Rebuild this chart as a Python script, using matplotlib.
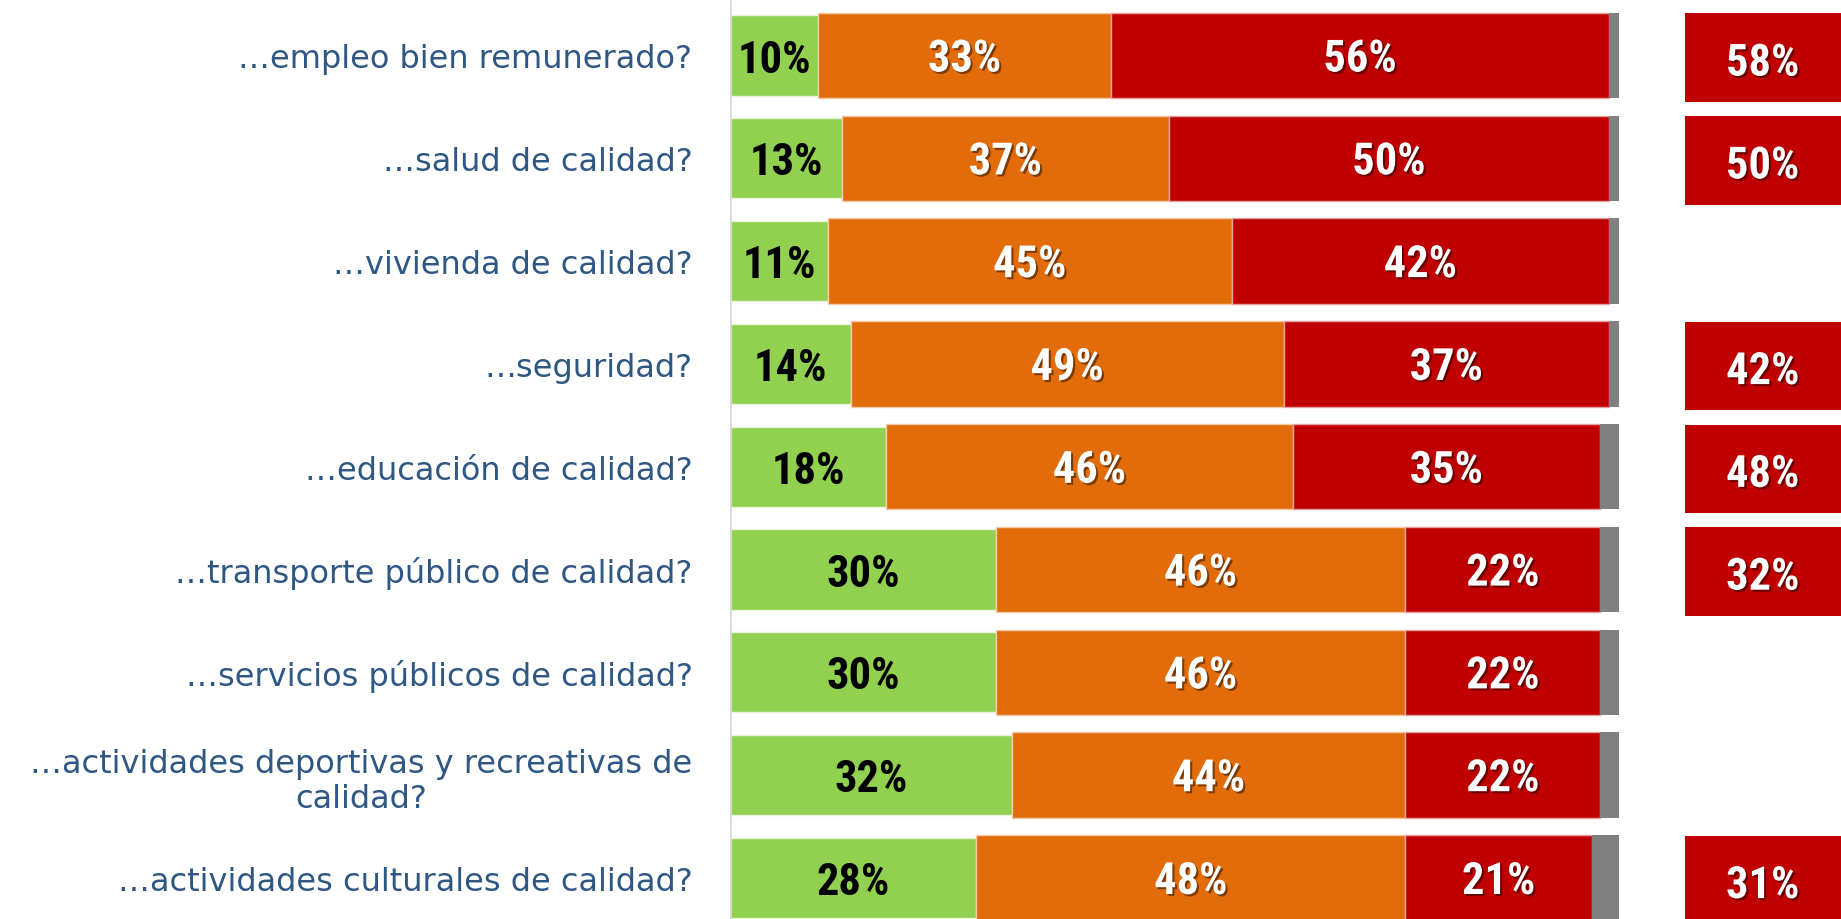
import matplotlib
matplotlib.use('Agg')
import matplotlib.pyplot as plt
import matplotlib.patheffects as pe
import numpy as np

# pregunta: ¿cree que su ciudad ofrece ...
CATEGORIES = ['…empleo bien remunerado?', '…salud de calidad?', '…vivienda de calidad?',
              '…seguridad?', '…educación de calidad?', '…transporte público de calidad?',
              '…servicios públicos de calidad?',
              '…actividades deportivas y recreativas de\ncalidad?',
              '…actividades culturales de calidad?']
GREEN = [9.9, 12.6, 11.0, 13.6, 17.6, 29.9, 29.9, 31.7, 27.7]
ORANGE = [33.0, 36.9, 45.4, 48.7, 45.7, 46.1, 46.1, 44.3, 48.2]
RED = [56.0, 49.6, 42.4, 36.6, 34.6, 21.9, 21.9, 21.9, 21.0]
NSNR = [1.1, 1.1, 1.1, 1.1, 2.1, 2.1, 2.1, 2.1, 3.0]
SIDE = ['58%', '50%', '', '42%', '48%', '32%', '', '', '31%']

C_GREEN = '#92D050'
C_ORANGE = '#E36C0A'
C_RED = '#C00000'
C_GRAY = '#808080'
LABEL_COLOR = '#2E5783'
NUM_FONT = ['Roboto Condensed', 'Liberation Sans Narrow', 'Roboto', 'DejaVu Sans']
NUM_SIZE = 32

fig = plt.figure(figsize=(18.41, 9.2), dpi=100)
ax = fig.add_axes([730 / 1841, 0, 1 - 730 / 1841, 1])

y = np.arange(len(CATEGORIES))
green = np.array(GREEN)
orange = np.array(ORANGE)
red = np.array(RED)
gray = np.array(NSNR)
tot = green + orange + red + gray
green, orange, red, gray = [a / tot * 100 for a in (green, orange, red, gray)]

ax.barh(y, green, height=0.78, color=C_GREEN, edgecolor='#E8F5D8', linewidth=1)
ax.barh(y, orange, left=green, height=0.83, color=C_ORANGE, edgecolor='#F4C9A8', linewidth=1)
ax.barh(y, red, left=green + orange, height=0.83, color=C_RED, edgecolor='#E8A0A0', linewidth=1)
ax.barh(y, gray, left=green + orange + red, height=0.83, color=C_GRAY, linewidth=0)

shadow = [pe.withSimplePatchShadow(offset=(1.5, -1.5), shadow_rgbFace='black', alpha=0.45)]
ty = y + 0.04
for i in range(len(y)):
    ax.text(green[i] / 2, ty[i], '%.0f%%' % GREEN[i], ha='center', va='center',
            fontsize=NUM_SIZE, fontweight='bold', family=NUM_FONT, color='black')
    ax.text(green[i] + orange[i] / 2, ty[i], '%.0f%%' % ORANGE[i], ha='center', va='center',
            fontsize=NUM_SIZE, fontweight='bold', family=NUM_FONT, color='white', path_effects=shadow)
    ax.text(green[i] + orange[i] + red[i] / 2, ty[i], '%.0f%%' % RED[i], ha='center', va='center',
            fontsize=NUM_SIZE, fontweight='bold', family=NUM_FONT, color='white', path_effects=shadow)
    if SIDE[i]:
        ax.barh(y[i] + 0.02, 17.6, left=107.5, height=0.86, color=C_RED, linewidth=0)
        ax.text(116.2, y[i] + 0.08, SIDE[i], ha='center', va='center',
                fontsize=NUM_SIZE, fontweight='bold', family=NUM_FONT, color='white', path_effects=shadow)

ax.axvline(0, color='#D9D9D9', lw=2)
ax.set_xlim(0, 125.0)
ax.set_ylim(8.40, -0.549)
ax.set_yticks(y)
ax.set_yticklabels(CATEGORIES, fontsize=23, color=LABEL_COLOR, family=['DejaVu Sans'],
                   multialignment='center')
ax.tick_params(axis='y', length=0, pad=27)
ax.set_xticks([])
for s in ax.spines.values():
    s.set_visible(False)

fig.savefig('out.png', dpi=100)
